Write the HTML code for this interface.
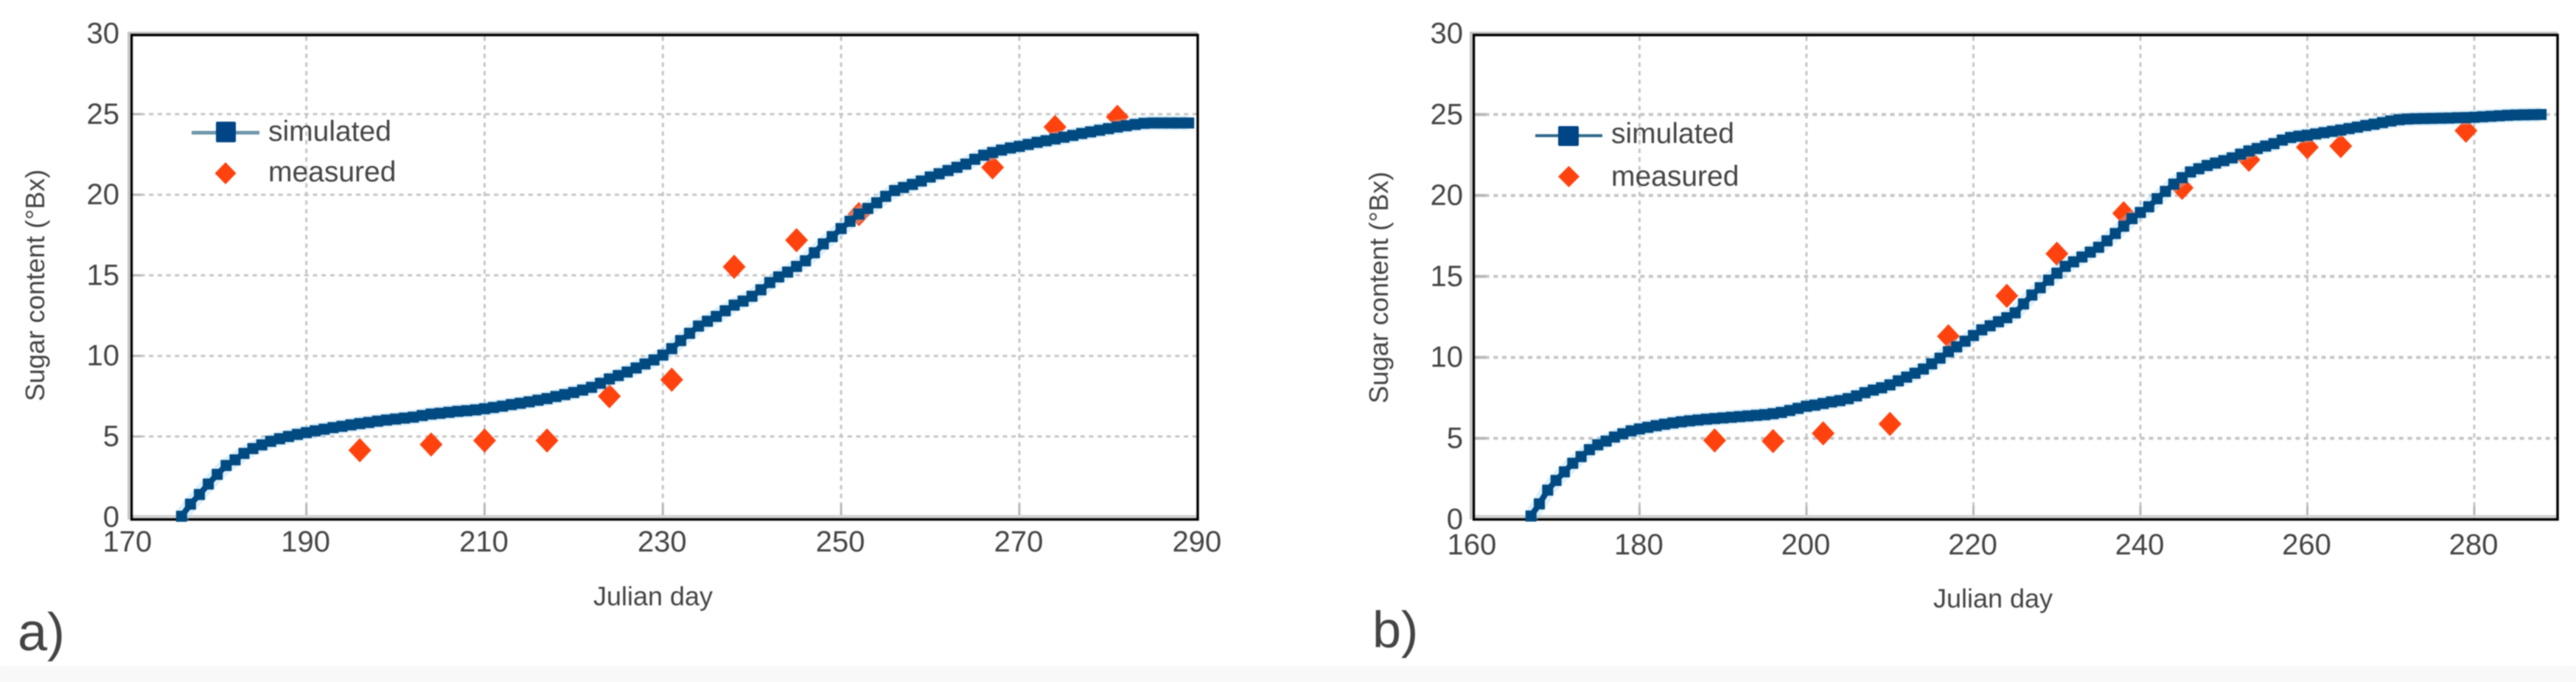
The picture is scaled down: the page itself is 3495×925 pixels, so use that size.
<!DOCTYPE html>
<html lang="en">
<head>
<meta charset="utf-8">
<title>Sugar content: simulated vs measured</title>
<style>
html,body{margin:0;padding:0;background:#fff;width:3495px;height:925px;overflow:hidden}
svg{display:block;filter:blur(.8px)}
text{font-family:"Liberation Sans",sans-serif;fill:#444}
</style>
</head>
<body>
<svg id="root" xmlns="http://www.w3.org/2000/svg" width="3495" height="925" viewBox="0 0 3495 925">
  <rect x="0" y="0" width="3495" height="925" fill="#ffffff"/>
  <rect x="0" y="903" width="3495" height="22" fill="#f8f8f8"/>

  <g id="chart-a"></g>
  <g id="chart-b"></g>

  <g>
    <line x1="260" y1="180" x2="352" y2="180" stroke="#6f97aa" stroke-width="5"/>
    <rect x="293" y="165" width="27" height="28" rx="2" fill="#004586"/>
    <text x="364" y="191" font-size="39">simulated</text>
    <polygon points="306,220 320.5,235 306,250 291.5,235" fill="#ff420e"/>
    <text x="364" y="246" font-size="39">measured</text>
  </g>
  <g>
    <line x1="2083" y1="184" x2="2174" y2="184" stroke="#2f6a8c" stroke-width="4"/>
    <rect x="2114" y="171" width="28" height="27" rx="2" fill="#004586"/>
    <text x="2186" y="194" font-size="39">simulated</text>
    <polygon points="2128.5,225 2143,239.5 2128.5,254 2114,239.5" fill="#ff420e"/>
    <text x="2186" y="252" font-size="39">measured</text>
  </g>

  <text x="24" y="882" font-size="72">a)</text>
  <text x="1862" y="878" font-size="70">b)</text>
</svg>

<script>
// ---- shared axis ticks ----
const yTicks = [0, 5, 10, 15, 20, 25, 30];
const xTicksA = [170, 190, 210, 230, 250, 270, 290];
const xTicksB = [160, 180, 200, 220, 240, 260, 280];

// ---- panel a: simulated series, one value per day from simStartA ----
const simStartA = 176;
const simValuesA = [
  0.05,0.8,1.4,2.05,
  2.65,3.2,3.55,3.95,4.25,4.48,4.7,4.86,5.0,5.13,
  5.24,5.35,5.45,5.55,5.63,5.72,5.8,5.87,5.95,6.02,
  6.08,6.14,6.2,6.3,6.39,6.44,6.5,6.56,6.6,6.65,
  6.72,6.8,6.88,6.98,7.06,7.15,7.25,7.35,7.48,7.6,
  7.73,7.88,8.05,8.3,8.57,8.78,9.0,9.25,9.5,9.75,
  10.05,10.45,10.95,11.4,11.85,12.15,12.45,12.8,13.15,13.4,
  13.7,14.1,14.55,14.9,15.2,15.55,15.9,16.4,16.95,17.4,
  17.9,18.35,18.8,19.15,19.5,19.9,20.26,20.45,20.64,20.85,
  21.1,21.3,21.5,21.7,21.9,22.2,22.45,22.62,22.77,22.9,
  23.0,23.12,23.25,23.35,23.46,23.57,23.68,23.8,23.9,24.0,
  24.1,24.2,24.28,24.36,24.43,24.45,24.45,24.45,24.45,24.45
];
const measuredDaysA = [196,204,210,217,224,231,238,245,252,267,274,281];
const measuredValuesA = [4.15,4.5,4.75,4.75,7.5,8.52,15.53,17.18,18.8,21.7,24.2,24.83];

// ---- panel b: simulated series, one value per day from simStartB ----
const simStartB = 167;
const simValuesB = [
  0.2,0.95,1.8,
  2.4,2.93,3.46,3.87,4.3,4.6,4.83,5.08,5.28,5.46,
  5.58,5.68,5.78,5.87,5.95,6.02,6.08,6.13,6.18,6.22,
  6.26,6.3,6.34,6.38,6.42,6.46,6.52,6.6,6.72,6.85,
  6.98,7.05,7.15,7.25,7.33,7.45,7.62,7.82,7.98,8.12,
  8.3,8.55,8.78,9.02,9.28,9.6,9.95,10.35,10.65,11.0,
  11.35,11.7,11.95,12.2,12.45,12.75,13.3,13.85,14.3,14.77,
  15.2,15.62,15.9,16.2,16.5,16.8,17.2,17.65,18.1,18.57,
  18.95,19.3,19.8,20.25,20.7,21.1,21.45,21.65,21.85,22.0,
  22.15,22.32,22.55,22.75,22.9,23.05,23.2,23.42,23.58,23.66,
  23.72,23.8,23.88,23.96,24.04,24.13,24.22,24.32,24.4,24.5,
  24.6,24.68,24.72,24.74,24.75,24.76,24.77,24.78,24.8,24.81,
  24.83,24.86,24.89,24.92,24.95,24.97,24.98,24.99,25
];
const measuredDaysB = [189,196,202,210,217,224,230,238,245,253,260,264,279];
const measuredValuesB = [4.87,4.83,5.31,5.89,11.3,13.8,16.4,18.9,20.47,22.2,22.98,23.05,24.0];

const NS = 'http://www.w3.org/2000/svg';

function make(parent, tag, attrs, text) {
  const e = document.createElementNS(NS, tag);
  for (const k in attrs) e.setAttribute(k, attrs[k]);
  if (text !== undefined) e.textContent = text;
  parent.appendChild(e);
  return e;
}

function drawChart(cfg) {
  const g = document.getElementById(cfg.id);
  const x = function (v) { return cfg.x0 + (v - cfg.xMin) * cfg.xPerUnit; };
  const y = function (v) { return cfg.y0 - v * cfg.yPerUnit; };
  const xRight = x(cfg.xMax);
  const yTop = y(30);
  const yBottom = y(0);
  const gridColor = '#c6c6c6';

  // horizontal grid + y tick labels
  yTicks.forEach(function (t) {
    const yy = y(t);
    if (t > 0) {
      const h = make(g, 'line', {x1: cfg.x0 + 5, x2: xRight, y1: yy, y2: yy, stroke: gridColor, 'stroke-width': cfg.hGridWidth, 'stroke-dasharray': t === 30 ? '5 1' : '6 5.7'});
      
      
      const s = make(g, 'line', {x1: cfg.x0 + 3, x2: cfg.x0 + 18, y1: yy, y2: yy, stroke: '#b8b8b8', 'stroke-width': cfg.hGridWidth});
      
      
    }
    const l = make(g, 'text', {x: cfg.yLabelX, y: yy + 13, 'font-size': 40, 'text-anchor': 'end'}, String(t));
    
    
  });

  // vertical grid + x tick labels
  cfg.xTicks.forEach(function (t) {
    const xx = x(t);
    if (t > cfg.xMin && t < cfg.xMax) {
      const v = make(g, 'line', {x1: xx, x2: xx, y1: yTop + 4, y2: yBottom, stroke: gridColor, 'stroke-width': 3, 'stroke-dasharray': '6 5.7'});
      
      
      const s = make(g, 'line', {x1: xx, x2: xx, y1: yBottom - 18, y2: yBottom, stroke: '#b8b8b8', 'stroke-width': 3});
      
      
    }
    const l = make(g, 'text', {x: xx - 1, y: cfg.xLabelY, 'font-size': 40, 'text-anchor': 'middle'}, String(t));
    
    
  });

  // grey under-frame and black plot frame
  const under = make(g, 'path', {d: 'M' + (cfg.boxL - 4) + ' ' + cfg.boxB + 'V' + (cfg.boxT - 3) + 'H' + cfg.boxR, fill: 'none', stroke: '#c4c4c4', 'stroke-width': 3});
  
  
  const base = make(g, 'line', {x1: cfg.boxL, x2: cfg.boxR, y1: cfg.boxB - 4, y2: cfg.boxB - 4, stroke: '#d2d2d2', 'stroke-width': 4});
  
  
  const frame = make(g, 'rect', {x: cfg.boxL, y: cfg.boxT, width: cfg.boxR - cfg.boxL, height: cfg.boxB - cfg.boxT, fill: 'none', stroke: '#000', 'stroke-width': 3.4});
  
  

  // measured diamonds, beneath the simulated curve
  cfg.measuredDays.forEach(function (d, i) {
    const cx = x(d), cy = y(cfg.measuredValues[i]);
    const m = make(g, 'polygon', {points: cx + ',' + (cy - 16.5) + ' ' + (cx + 15.5) + ',' + cy + ' ' + cx + ',' + (cy + 16.5) + ' ' + (cx - 15.5) + ',' + cy, fill: '#ff420e'});
    
    
  });

  // simulated line and square markers
  const pts = cfg.simValues.map(function (v, i) { return x(cfg.simStart + i) + ',' + y(v); }).join(' ');
  const halo = make(g, 'polyline', {points: pts, fill: 'none', stroke: '#9fd4f0', 'stroke-opacity': 0.35, 'stroke-width': 20});
  
  
  const line = make(g, 'polyline', {points: pts, fill: 'none', stroke: '#004586', 'stroke-width': 8});
  
  
  cfg.simValues.forEach(function (v, i) {
    const r = make(g, 'rect', {x: x(cfg.simStart + i) - 7.5, y: y(v) - 7.5, width: 15, height: 15, fill: '#004a82'});
    
    
  });

  // axis titles
  const xt = make(g, 'text', {x: cfg.xTitleX, y: cfg.xTitleY, 'font-size': 36, 'text-anchor': 'middle'}, 'Julian day');
  
  
  const yt = make(g, 'text', {x: 0, y: 0, 'font-size': 36, 'text-anchor': 'middle', transform: 'translate(' + cfg.yTitleX + ' ' + cfg.yTitleY + ') rotate(-90)'}, 'Sugar content (°Bx)');
  
  
}

drawChart({
  id: 'chart-a', xMin: 170, xMax: 290, x0: 173.8, xPerUnit: 12.092,
  y0: 701.3, yPerUnit: 21.86, xTicks: xTicksA,
  simStart: simStartA, simValues: simValuesA,
  measuredDays: measuredDaysA, measuredValues: measuredValuesA,
  boxL: 178.5, boxR: 1625, boxT: 47.5, boxB: 704.5,
  yLabelX: 162, xLabelY: 748, hGridWidth: 3,
  xTitleX: 886, xTitleY: 821, yTitleX: 60, yTitleY: 387
});
drawChart({
  id: 'chart-b', xMin: 160, xMax: 290, x0: 1997.9, xPerUnit: 11.326,
  y0: 704.3, yPerUnit: 21.96, xTicks: xTicksB,
  simStart: simStartB, simValues: simValuesB,
  measuredDays: measuredDaysB, measuredValues: measuredValuesB,
  boxL: 1999.5, boxR: 3470, boxT: 47.5, boxB: 704.5,
  yLabelX: 1985, xLabelY: 752, hGridWidth: 4,
  xTitleX: 2704, xTitleY: 824, yTitleX: 1883, yTitleY: 390
});
</script>
</body>
</html>
